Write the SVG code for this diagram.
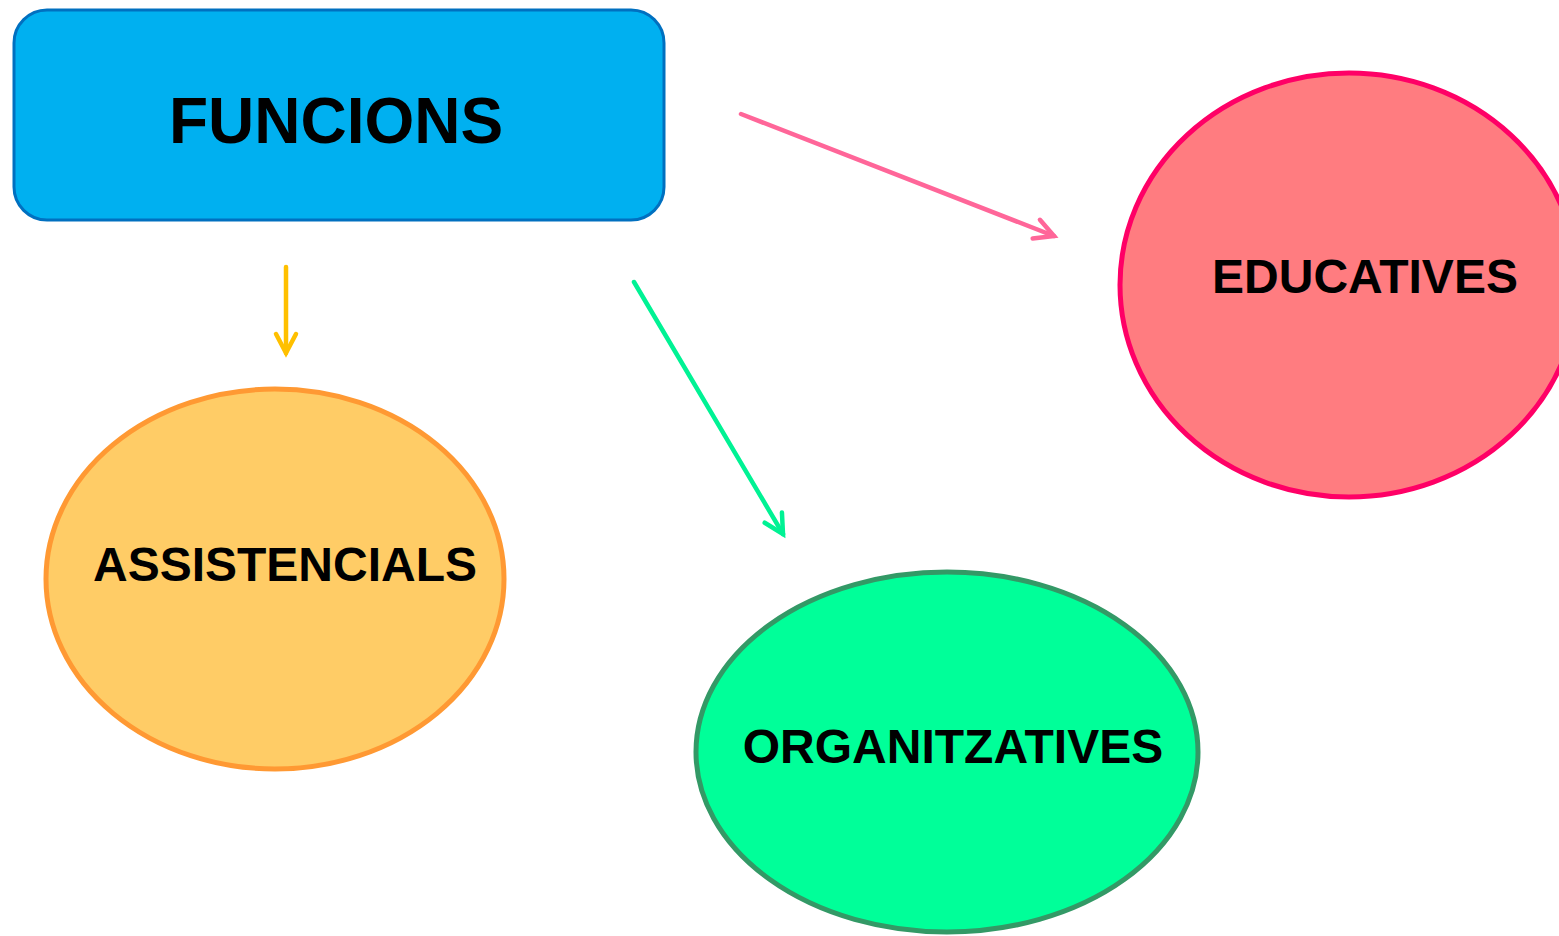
<svg xmlns="http://www.w3.org/2000/svg" width="1559" height="936" viewBox="0 0 1559 936">
<style>
.lbl{font-family:"Liberation Sans",Arial,sans-serif;font-weight:bold;fill:#000;text-anchor:middle}
.conn{fill:none;stroke-width:4.5;stroke-linecap:round}
</style>
<defs>
<marker id="hY" markerUnits="userSpaceOnUse" markerWidth="40" markerHeight="40" viewBox="-20 -20 40 40" refX="0" refY="0" orient="auto" overflow="visible">
<path d="M-19,-10 L0,0 L-19,10" fill="none" stroke="#FFC000" stroke-width="4.5" stroke-linecap="round" stroke-linejoin="miter"/>
</marker>
<marker id="hP" markerUnits="userSpaceOnUse" markerWidth="40" markerHeight="40" viewBox="-20 -20 40 40" refX="0" refY="0" orient="auto" overflow="visible">
<path d="M-19,-10 L0,0 L-19,10" fill="none" stroke="#FF6699" stroke-width="4.5" stroke-linecap="round" stroke-linejoin="miter"/>
</marker>
<marker id="hG" markerUnits="userSpaceOnUse" markerWidth="40" markerHeight="40" viewBox="-20 -20 40 40" refX="0" refY="0" orient="auto" overflow="visible">
<path d="M-19,-10 L0,0 L-19,10" fill="none" stroke="#00F294" stroke-width="4.5" stroke-linecap="round" stroke-linejoin="miter"/>
</marker>
</defs>
<rect width="1559" height="936" fill="#fff"/>
<g id="connectors">
<line class="conn" x1="286" y1="267" x2="286" y2="353" stroke="#FFC000" marker-end="url(#hY)"/>
<line class="conn" x1="741" y1="114" x2="1054" y2="236" stroke="#FF6699" marker-end="url(#hP)"/>
<line class="conn" x1="634" y1="282" x2="783" y2="534" stroke="#00F294" marker-end="url(#hG)"/>
</g>
<g id="funcions">
<rect x="14" y="10" width="650" height="210" rx="33" ry="33" fill="#00B0F0" stroke="#0070C0" stroke-width="3"/>
<text class="lbl" x="336" y="143" font-size="64">FUNCIONS</text>
</g>
<g id="educatives">
<ellipse cx="1349" cy="285" rx="229" ry="212" fill="#FF7C80" stroke="#FF0066" stroke-width="5"/>
<text class="lbl" x="1365" y="293" font-size="48">EDUCATIVES</text>
</g>
<g id="assistencials">
<ellipse cx="275" cy="579" rx="229" ry="190" fill="#FFCC66" stroke="#FF9933" stroke-width="5"/>
<text class="lbl" x="285" y="581" font-size="48">ASSISTENCIALS</text>
</g>
<g id="organitzatives">
<ellipse cx="947" cy="752" rx="251" ry="180" fill="#00FF99" stroke="#339966" stroke-width="5"/>
<text class="lbl" x="953" y="763" font-size="48">ORGANITZATIVES</text>
</g>
</svg>
